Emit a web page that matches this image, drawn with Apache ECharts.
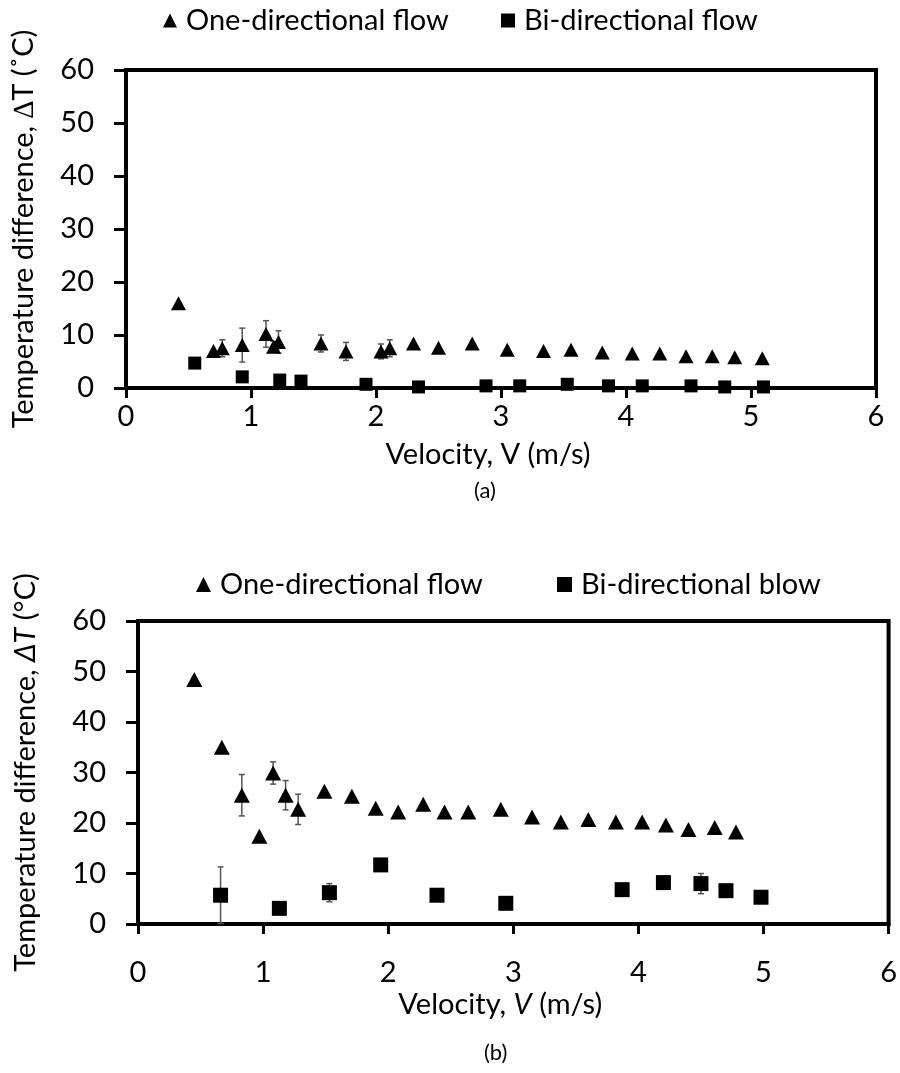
<!DOCTYPE html>
<html>
<head>
<meta charset="utf-8">
<script src="https://cdn.jsdelivr.net/npm/echarts@6/dist/echarts.min.js"></script>
<style>
  html, body { margin: 0; padding: 0; background: #ffffff; }
  #chart { width: 900px; height: 1073px; }
</style>
</head>
<body>
<div id="chart"></div>
<script>
// (a) one-directional flow
const aOneV = [0.42, 0.70, 0.77, 0.93, 1.12, 1.18, 1.22, 1.56, 1.76, 2.04, 2.11, 2.30, 2.50, 2.77, 3.05, 3.34, 3.56, 3.81, 4.05, 4.27, 4.48, 4.69, 4.87, 5.09]
const aOneT = [16.0, 7.0, 7.5, 8.1, 10.2, 7.8, 8.7, 8.4, 6.9, 6.9, 7.5, 8.4, 7.6, 8.4, 7.2, 7.0, 7.2, 6.7, 6.5, 6.5, 6.0, 6.0, 5.8, 5.6]
const aOneErr = [0, 0, 1.6, 3.2, 2.5, 1.0, 2.1, 1.6, 1.7, 1.4, 1.6, 0, 0, 0, 0, 0, 0, 0, 0, 0, 0, 0, 0, 0]
// (a) bi-directional flow
const aBiV = [0.55, 0.93, 1.23, 1.40, 1.92, 2.34, 2.88, 3.15, 3.53, 3.86, 4.13, 4.52, 4.79, 5.10]
const aBiT = [4.7, 2.1, 1.5, 1.3, 0.7, 0.2, 0.4, 0.4, 0.7, 0.4, 0.4, 0.4, 0.2, 0.2]
// (b) one-directional flow
const bOneV = [0.45, 0.67, 0.83, 0.97, 1.08, 1.18, 1.28, 1.49, 1.71, 1.90, 2.08, 2.28, 2.45, 2.64, 2.90, 3.15, 3.38, 3.60, 3.82, 4.03, 4.22, 4.40, 4.61, 4.78]
const bOneT = [48.4, 35.0, 25.5, 17.4, 29.9, 25.5, 22.7, 26.3, 25.3, 22.9, 22.2, 23.7, 22.2, 22.2, 22.7, 21.2, 20.2, 20.7, 20.2, 20.2, 19.6, 18.7, 19.1, 18.2]
const bOneErr = [0, 0, 4.1, 0, 2.2, 2.9, 3.0, 0, 0, 0, 0, 0, 0, 0, 0, 0, 0, 0, 0, 0, 0, 0, 0, 0]
// (b) bi-directional blow
const bBiV = [0.66, 1.13, 1.53, 1.94, 2.39, 2.94, 3.87, 4.20, 4.50, 4.70, 4.98]
const bBiT = [5.7, 3.1, 6.2, 11.7, 5.7, 4.1, 6.8, 8.2, 8.0, 6.6, 5.3]
const bBiErr = [5.6, 0, 1.8, 0, 0, 0.5, 0, 0, 2.0, 0, 0]

const xTicks = [0, 6, 1]
const yTicks = [0, 60, 10]

const FONT = "Lato"
const FS = 29

let chart = echarts.init(document.getElementById("chart"))

function pts(v, t) {
	return v.map((x, i) => [x, t[i]])
}
function errs(v, t, e) {
	return v.map((x, i) => [x, t[i], e[i]]).filter((d) => d[2] > 0)
}
function errBar(params, api) {
	let x = api.value(0)
	let y = api.value(1)
	let e = api.value(2)
	let top = api.coord([x, y + e])
	let bot = api.coord([x, Math.max(y - e, 0)])
	let st = { stroke: "#555555", lineWidth: 1.5 }
	return {
		type: "group",
		children: [
			{ type: "line", shape: { x1: top[0], y1: top[1], x2: bot[0], y2: bot[1] }, style: st },
			{ type: "line", shape: { x1: top[0] - 3, y1: top[1], x2: top[0] + 3, y2: top[1] }, style: st },
			{ type: "line", shape: { x1: bot[0] - 3, y1: bot[1], x2: bot[0] + 3, y2: bot[1] }, style: st },
		],
	}
}

function xAxis(idx, name, gap, labMargin) {
	return {
		type: "value",
		gridIndex: idx,
		min: xTicks[0],
		max: xTicks[1],
		interval: xTicks[2],
		name: name,
		nameLocation: "middle",
		nameGap: gap,
		nameTextStyle: {
			fontFamily: FONT, fontSize: FS, color: "#000",
			padding: [0, 26, 0, 0],
			rich: { i: { fontFamily: FONT, fontSize: FS, fontStyle: "italic", color: "#000" } },
		},
		splitLine: { show: false },
		axisLine: { onZero: false, lineStyle: { color: "#000", width: 4 } },
		axisTick: { length: 10, lineStyle: { color: "#000", width: 3 } },
		axisLabel: { fontFamily: FONT, fontSize: FS, color: "#000", margin: labMargin },
	}
}
function yAxis(idx, name, gap) {
	return {
		type: "value",
		gridIndex: idx,
		min: yTicks[0],
		max: yTicks[1],
		interval: yTicks[2],
		name: name,
		nameLocation: "middle",
		nameGap: gap,
		nameTextStyle: {
			fontFamily: FONT, fontSize: FS, color: "#000",
			rich: { i: { fontFamily: FONT, fontSize: FS, fontStyle: "italic", color: "#000" } },
		},
		splitLine: { show: false },
		axisLine: { onZero: false, lineStyle: { color: "#000", width: 4 } },
		axisTick: { length: 12, lineStyle: { color: "#000", width: 3 } },
		axisLabel: { fontFamily: FONT, fontSize: FS, color: "#000", margin: 32 },
	}
}

let legendText = { fontFamily: FONT, fontSize: FS, color: "#000", padding: [0, 0, 0, 4] }
function legend(name, left, top, size) {
	return { data: [name], left: left, top: top, itemWidth: size, itemHeight: size, textStyle: legendText }
}

let option = {
	animation: false,
	backgroundColor: "#ffffff",
	legend: [
		legend("One-directional flow", 158, 1, 14),
		legend("Bi-directional flow", 496, 1, 14),
		legend("One-directional flow", 191, 565, 15),
		legend("Bi-directional blow", 552, 565, 15),
	],
	grid: [
		{ left: 126, right: 24, top: 70, height: 318, show: true, borderColor: "#000", borderWidth: 4 },
		{ left: 138, right: 11, top: 621, height: 303, show: true, borderColor: "#000", borderWidth: 4 },
	],
	xAxis: [
		xAxis(0, "Velocity, V (m/s)", 52, 14),
		xAxis(1, "Velocity, {i|V} (m/s)", 66, 34),
	],
	yAxis: [
		yAxis(0, "Temperature difference, \u2206T (\u02daC)", 88),
		yAxis(1, "Temperature difference, {i|\u0394T} (\u00b0C)", 98),
	],
	graphic: [
		{ type: "text", left: 474, top: 480, style: { text: "(a)", fontFamily: FONT, fontSize: 22, fill: "#000" } },
		{ type: "text", left: 484, top: 1042, style: { text: "(b)", fontFamily: FONT, fontSize: 22, fill: "#000" } },
	],
	series: [
		{
			type: "custom", xAxisIndex: 0, yAxisIndex: 0, renderItem: errBar,
			data: errs(aOneV, aOneT, aOneErr), encode: { x: 0, y: 1 }, z: 1, silent: true,
		},
		{
			name: "One-directional flow", type: "scatter", xAxisIndex: 0, yAxisIndex: 0,
			symbol: "triangle", symbolSize: [15, 14], itemStyle: { color: "#000", opacity: 1 },
			data: pts(aOneV, aOneT), z: 3,
		},
		{
			name: "Bi-directional flow", type: "scatter", xAxisIndex: 0, yAxisIndex: 0,
			symbol: "rect", symbolSize: 13, itemStyle: { color: "#000", opacity: 1 },
			data: pts(aBiV, aBiT), z: 3,
		},
		{
			type: "custom", xAxisIndex: 1, yAxisIndex: 1, renderItem: errBar,
			data: errs(bOneV, bOneT, bOneErr), encode: { x: 0, y: 1 }, z: 1, silent: true,
		},
		{
			type: "custom", xAxisIndex: 1, yAxisIndex: 1, renderItem: errBar,
			data: errs(bBiV, bBiT, bBiErr), encode: { x: 0, y: 1 }, z: 1, silent: true,
		},
		{
			name: "One-directional flow", type: "scatter", xAxisIndex: 1, yAxisIndex: 1,
			symbol: "triangle", symbolSize: [16, 15], itemStyle: { color: "#000", opacity: 1 },
			data: pts(bOneV, bOneT), z: 3,
		},
		{
			name: "Bi-directional blow", type: "scatter", xAxisIndex: 1, yAxisIndex: 1,
			symbol: "rect", symbolSize: 15, itemStyle: { color: "#000", opacity: 1 },
			data: pts(bBiV, bBiT), z: 3,
		},
	],
}

chart.setOption(option)
</script>
</body>
</html>
